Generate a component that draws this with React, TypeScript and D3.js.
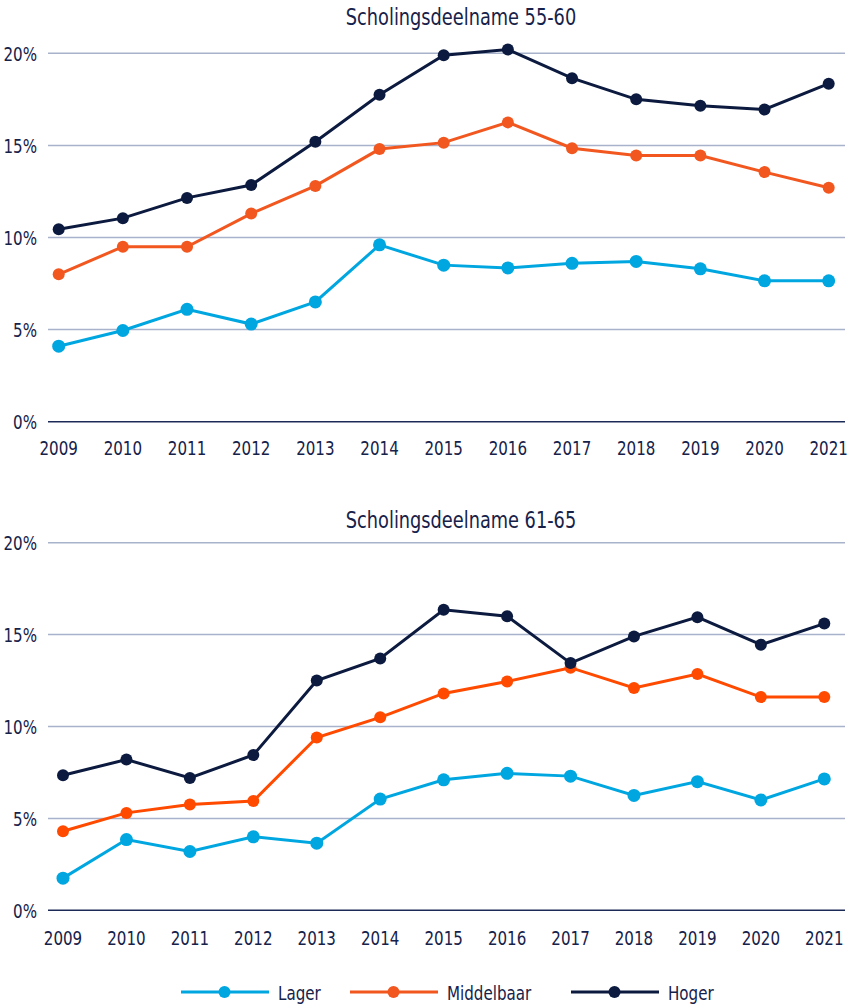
import React, { useEffect, useRef } from 'react';
import * as d3 from 'd3';

const years = ['2009', '2010', '2011', '2012', '2013', '2014', '2015', '2016', '2017', '2018', '2019', '2020', '2021'];
const yTicks = [0, 5, 10, 15, 20];

// Scholingsdeelname 55-60
const lager5560 = [4.1, 4.95, 6.1, 5.3, 6.5, 9.6, 8.5, 8.35, 8.6, 8.7, 8.3, 7.65, 7.65];
const middel5560 = [8.0, 9.5, 9.5, 11.3, 12.8, 14.8, 15.15, 16.25, 14.85, 14.45, 14.45, 13.55, 12.7];
const hoger5560 = [10.45, 11.05, 12.15, 12.85, 15.2, 17.75, 19.9, 20.2, 18.65, 17.5, 17.15, 16.95, 18.35];

// Scholingsdeelname 61-65
const lager6165 = [1.75, 3.85, 3.2, 4.0, 3.65, 6.05, 7.1, 7.45, 7.3, 6.25, 7.0, 6.0, 7.15];
const middel6165 = [4.3, 5.3, 5.75, 5.95, 9.4, 10.5, 11.8, 12.45, 13.2, 12.1, 12.85, 11.6, 11.6];
const hoger6165 = [7.35, 8.2, 7.2, 8.45, 12.5, 13.7, 16.35, 16.0, 13.45, 14.9, 15.95, 14.45, 15.6];

const seriesNames = ['Lager', 'Middelbaar', 'Hoger'];
const colors = ['#00a6e0', '#f2571f', '#0b1a3e'];

const FONT = '"DejaVu Sans Condensed", "Liberation Sans Narrow", sans-serif';
const TEXT = '#16224a';
const SX = 0.84; // squeeze text horizontally, the original uses a condensed face

const panels = [
  { title: 'Scholingsdeelname 55-60', top: 53.3, bottom: 421.7, x0: 58.7, x1: 828.7, titleY: 24.5, labY: 454.5, data: [lager5560, middel5560, hoger5560], colors },
  { title: 'Scholingsdeelname 61-65', top: 542.7, bottom: 910.3, x0: 63, x1: 824.3, titleY: 528, labY: 944.5, data: [lager6165, middel6165, hoger6165], colors: ['#00a6e0', '#ff4a00', '#0b1a3e'] },
];

function label(g: any, x: number, y: number, txt: string, size: number, anchor = 'start') {
  g.append('text')
    .attr('transform', `translate(${x},${y}) scale(${SX},1)`)
    .attr('text-anchor', anchor)
    .attr('font-family', FONT).attr('font-size', size)
    .attr('fill', TEXT)
    .text(txt);
}

export default function App() {
  const ref = useRef<SVGSVGElement>(null);

  useEffect(() => {
    const svg = d3.select(ref.current);
    svg.selectAll('*').remove();

    panels.forEach(p => {
      const x = d3.scalePoint<string>().domain(years).range([p.x0, p.x1]);
      const y = d3.scaleLinear().domain([0, 20]).range([p.bottom, p.top]);
      const g = svg.append('g');

      label(g, 461, p.titleY, p.title, 23.5, 'middle');

      // gridlines
      g.selectAll('.grid').data(yTicks).enter().append('line')
        .attr('x1', 48).attr('x2', 845)
        .attr('y1', d => y(d)).attr('y2', d => y(d))
        .attr('stroke', d => d === 0 ? '#1c2a58' : '#a8b3cb')
        .attr('stroke-width', 1.5);

      yTicks.forEach(t => label(g, 37, y(t) + 7.5, `${t}%`, 20, 'end'));
      years.forEach(yr => label(g, x(yr)!, p.labY, yr, 20, 'middle'));

      const line = d3.line<number>()
        .x((_, i) => x(years[i])!)
        .y(d => y(d));

      p.data.forEach((vals, si) => {
        g.append('path')
          .attr('d', line(vals))
          .attr('fill', 'none')
          .attr('stroke', p.colors[si])
          .attr('stroke-width', 3);
        g.selectAll(null).data(vals).enter().append('circle')
          .attr('cx', (_, i) => x(years[i])!)
          .attr('cy', d => y(d))
          .attr('r', si === 0 ? 6.5 : 6)
          .attr('fill', p.colors[si]);
      });
    });

    // legend
    const legendX = [181, 350, 571];
    const lg = svg.append('g');
    seriesNames.forEach((name, i) => {
      const lx = legendX[i];
      lg.append('line')
        .attr('x1', lx).attr('x2', lx + 88)
        .attr('y1', 992).attr('y2', 992)
        .attr('stroke', colors[i]).attr('stroke-width', 3);
      lg.append('circle')
        .attr('cx', lx + 43.5).attr('cy', 992).attr('r', 6)
        .attr('fill', colors[i]);
      label(lg, lx + 97, 999.5, name, 20);
    });
  }, []);

  return (
    <svg ref={ref} width={848} height={1007} style={{ position: 'absolute', left: 0, top: 0, background: '#fff' }} />
  );
}
